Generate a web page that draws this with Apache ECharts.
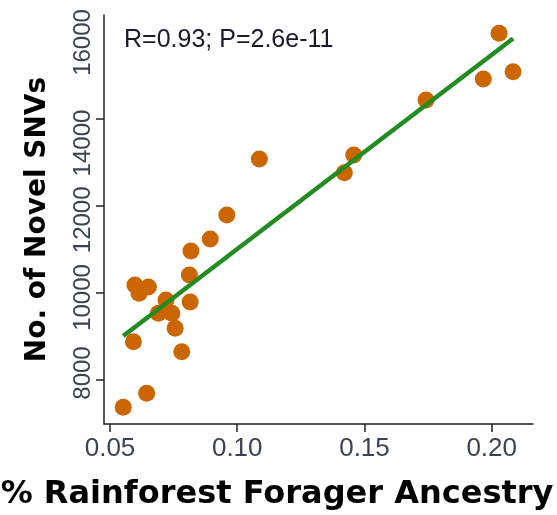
<!DOCTYPE html>
<html>
<head>
<meta charset="utf-8">
<script src="https://cdn.jsdelivr.net/npm/echarts@6/dist/echarts.min.js"></script>
<style>
  html, body { margin: 0; padding: 0; background: #fff; }
  #chart { width: 557px; height: 515px; }
</style>
</head>
<body>
<div id="chart"></div>
<script>
// % rainforest forager ancestry per sample
const ancestry = [
  0.0552, 0.0644, 0.0592, 0.0782, 0.0756, 0.0690, 0.0743, 0.0720,
  0.0815, 0.0598, 0.0651, 0.0614, 0.0812, 0.0818, 0.0894, 0.0959,
  0.1087, 0.1421, 0.1458, 0.1742, 0.1967, 0.2084, 0.2029
]
// number of novel SNVs per sample
const novelSnvs = [
  7375, 7696, 8879, 8650, 9187, 9530, 9530, 9835,
  9790, 10179, 10133, 9989, 10408, 10959, 11234, 11784,
  13068, 12754, 13160, 14420, 14902, 15069, 15950
]
// fitted line end points
const fitX = [0.0552, 0.2084]
const fitY = [9010, 15830]

const xTicks = [0.05, 0.10, 0.15, 0.20]
const yTicks = [8000, 10000, 12000, 14000]
// y labels in the source sit a little off their ticks
const yLabels = ['8000', '10000', '12000', '14000', '16000']
const yLabelAt = [8160, 9892, 11672, 13433, 15739]
const annotation = 'R=0.93; P=2.6e-11'
const xTitle = '% Rainforest Forager Ancestry'
const yTitle = 'No. of Novel SNVs'

const points = ancestry.map((x, i) => [x, novelSnvs[i]])
const fit = fitX.map((x, i) => [x, fitY[i]])

const sans = 'Liberation Sans, Arial, sans-serif'
const titleFont = 'DejaVu Sans'

const chart = echarts.init(document.getElementById('chart'))
chart.setOption({
  animation: false,
  grid: { left: 104, right: 24, top: 15, bottom: 91 },
  xAxis: {
    type: 'value',
    min: 0.04764,
    max: 0.21623,
    splitLine: { show: false },
    axisLine: { show: true, lineStyle: { color: '#222', width: 1.5 } },
    axisTick: { show: true, length: 8, customValues: xTicks, lineStyle: { color: '#222', width: 1.5 } },
    axisLabel: {
      fontFamily: sans, fontSize: 26, color: '#3a4450', margin: 12,
      customValues: xTicks, formatter: v => v.toFixed(2)
    }
  },
  yAxis: {
    type: 'value',
    min: 6991,
    max: 16369,
    name: yTitle,
    nameLocation: 'middle',
    nameGap: 52,
    nameTextStyle: { fontFamily: titleFont, fontWeight: 'bold', fontSize: 28, color: '#000' },
    splitLine: { show: false },
    axisLine: { show: true, lineStyle: { color: '#222', width: 1.5 } },
    axisTick: { show: true, length: 8, customValues: yTicks, lineStyle: { color: '#222', width: 1.5 } },
    axisLabel: {
      fontFamily: sans, fontSize: 24, color: '#3a4450', margin: 9, rotate: 90,
      customValues: yLabelAt, formatter: v => yLabels[yLabelAt.indexOf(v)]
    }
  },
  graphic: [
    {
      type: 'text',
      left: 124,
      top: 28,
      style: { text: annotation, fontFamily: sans, fontSize: 25, fill: '#1a1a2a' }
    },
    {
      type: 'text',
      x: 277,
      y: 479,
      style: {
        text: xTitle, fontFamily: titleFont, fontWeight: 'bold', fontSize: 32,
        fill: '#000', align: 'center', verticalAlign: 'top'
      }
    }
  ],
  series: [
    {
      type: 'scatter',
      data: points,
      symbolSize: 17,
      itemStyle: { color: '#CC6600', opacity: 1 }
    },
    {
      type: 'line',
      data: fit,
      symbol: 'none',
      lineStyle: { color: '#228B22', width: 4.5 },
      z: 3
    }
  ]
})
</script>
</body>
</html>
